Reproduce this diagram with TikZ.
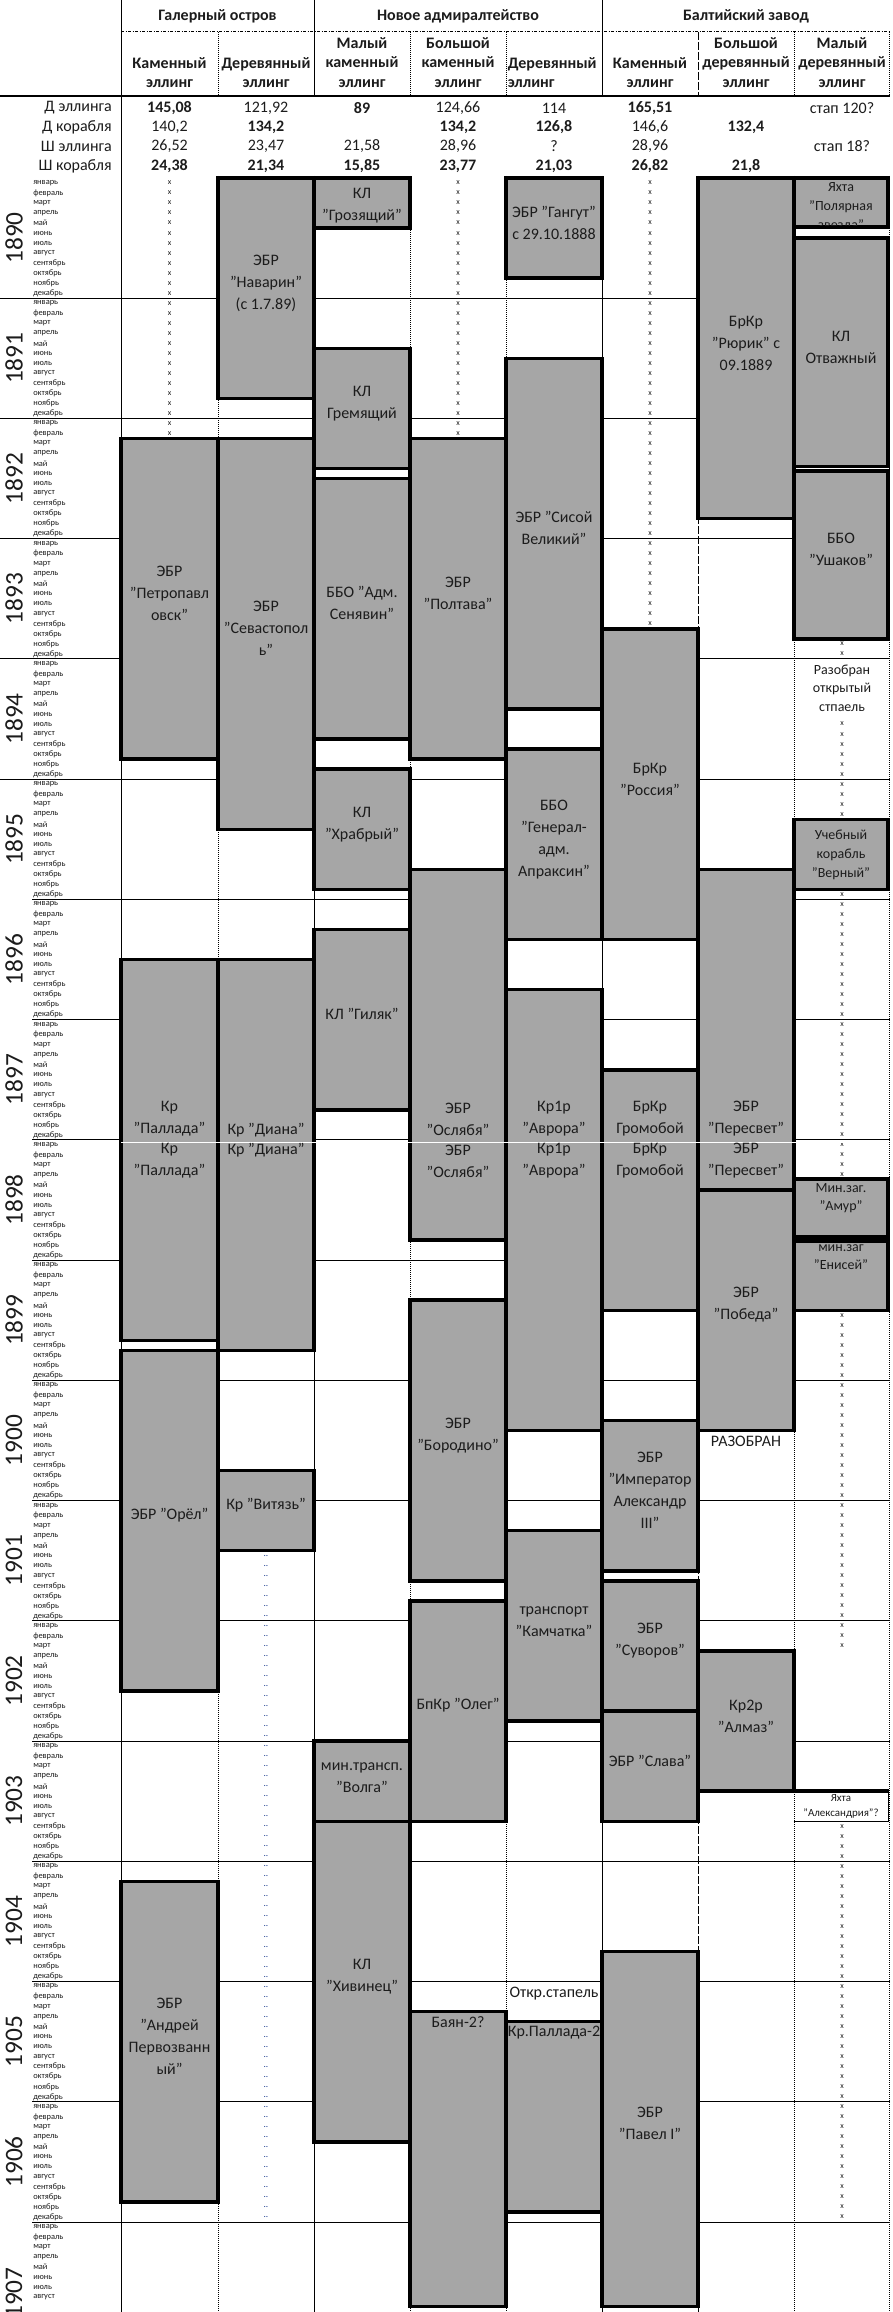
\documentclass[tikz,border=0pt]{standalone}
\usepackage{fontspec}
\setmainfont{Carlito}
\usetikzlibrary{fit}
\definecolor{shipgray}{HTML}{A6A6A6}
\definecolor{ink}{HTML}{1C1C1C}
\definecolor{dotblue}{HTML}{1F3F8F}

\begin{document}
\begin{tikzpicture}[
  x=0.75pt, y=-0.75pt,
  ship/.style={draw=black, line width=2.6pt, fill=shipgray, inner sep=0pt, align=center, text=ink, font=\fontsize{12}{16.5}\selectfont},
  shiptext/.style={inner sep=0pt, align=center, text=ink, font=\fontsize{12}{16.5}\selectfont},
  smalltext/.style={inner sep=0pt, align=center, text=ink, font=\fontsize{10.5}{14}\selectfont},
  tinytext/.style={inner sep=0pt, align=center, text=ink, font=\fontsize{8.2}{11.2}\selectfont},
  grouphead/.style={inner sep=0pt, text=ink, font=\fontsize{12}{14.6}\selectfont\bfseries},
  colhead/.style={inner sep=0pt, align=center, text=ink, font=\fontsize{12}{14.6}\selectfont\bfseries},
  rowhead/.style={inner sep=0pt, anchor=east, text=ink, font=\fontsize{12}{14.6}\selectfont},
  val/.style={inner sep=0pt, text=ink, font=\fontsize{12}{14.6}\selectfont},
  month/.style={inner sep=0pt, anchor=west, text=ink, font=\fontsize{6.3}{7}\selectfont},
  yearlab/.style={inner sep=0pt, rotate=90, text=ink, font=\fontsize{19}{19}\selectfont},
  xmark/.style={inner sep=0pt, text=ink, font=\fontsize{6}{6}\selectfont},
  dotmark/.style={inner sep=0pt, text=dotblue, font=\fontsize{7}{7}\selectfont},
  yachtbox/.style={inner sep=0pt},
  solidline/.style={line width=0.75pt},
  dotline/.style={line width=0.75pt, dash pattern=on 0.75pt off 0.75pt},
  dashline/.style={line width=0.75pt, dash pattern=on 6pt off 1.5pt},
  dashdotline/.style={line width=0.75pt, dash pattern=on 2.5pt off 1pt on 0.75pt off 1pt},
]

\useasboundingbox (0,0) rectangle (892,2312);
\clip (0,0) rectangle (892,2312);

% header lines
\draw[solidline] (121,0) -- (121,2312);
\draw[solidline] (314,0) -- (314,96);
\draw[solidline] (602,0) -- (602,96);
\foreach \cx in {218,410,506,794,889.5} \draw[dotline] (\cx,32) -- (\cx,96);
\draw[dashline] (698,32) -- (698,96);
\draw[dashdotline] (121,32) -- (889.5,32);
\draw[line width=1.1pt] (0,96) -- (889.5,96);

% grid lines
\draw[solidline] (314,176) -- (314,2312);
\draw[solidline] (602,176) -- (602,2312);
\foreach \cx in {218,410,506,794,889.5} \draw[dotline] (\cx,176) -- (\cx,2312);
\draw[dashline] (698,176) -- (698,2312);
\foreach \k in {1,...,5} \draw[solidline] (0,{178+120.24*\k}) -- (889.5,{178+120.24*\k});
\foreach \k in {6,...,17} \draw[solidline] (32,{178+120.24*\k}) -- (889.5,{178+120.24*\k});

% header text
\node[grouphead] (galerny) at (217.5,16) {Галерный остров};
\node[grouphead] (noveadm) at (458,16) {Новое адмиралтейство};
\node[grouphead] (baltic) at (746,16) {Балтийский завод};

\node[colhead] (h-c1) at (169.5,72.5) {Каменный\\эллинг};
\node[colhead] (h-c2) at (266,72.5) {Деревянный\\эллинг};
\node[colhead] (h-c3) at (362,62.5) {Малый\\каменный\\эллинг};
\node[colhead] (h-c4) at (458,62.5) {Большой\\каменный\\эллинг};
\node[colhead, align=left, anchor=west] (h-c5) at (507.5,72.5) {Деревянный\\эллинг};
\node[colhead] (h-c6) at (650,72.5) {Каменный\\эллинг};
\node[colhead] (h-c7) at (746,62.5) {Большой\\деревянный\\эллинг};
\node[colhead] (h-c8) at (842,62.5) {Малый\\деревянный\\эллинг};

\node[rowhead] (r-de) at (112,108) {Д эллинга};
\node[rowhead] (r-dk) at (112,127) {Д корабля};
\node[rowhead] (r-se) at (112,146) {Ш эллинга};
\node[rowhead] (r-sk) at (112,166) {Ш корабля};

\node[val] (de-1) at (169.5,108) {\bfseries 145,08};
\node[val] (de-2) at (266,108) {121,92};
\node[val] (de-3) at (362,108) {\bfseries 89};
\node[val] (de-4) at (458,108) {124,66};
\node[val] (de-5) at (554,108) {114};
\node[val] (de-6) at (650,108) {\bfseries 165,51};
\node[val] (de-8) at (842,108) {стап 120?};

\node[val] (dk-1) at (169.5,127) {140,2};
\node[val] (dk-2) at (266,127) {\bfseries 134,2};
\node[val] (dk-4) at (458,127) {\bfseries 134,2};
\node[val] (dk-5) at (554,127) {\bfseries 126,8};
\node[val] (dk-6) at (650,127) {146,6};
\node[val] (dk-7) at (746,127) {\bfseries 132,4};

\node[val] (se-1) at (169.5,146) {26,52};
\node[val] (se-2) at (266,146) {23,47};
\node[val] (se-3) at (362,146) {21,58};
\node[val] (se-4) at (458,146) {28,96};
\node[val] (se-5) at (554,146) {?};
\node[val] (se-6) at (650,146) {28,96};
\node[val] (se-8) at (842,146) {стап 18?};

\node[val] (sk-1) at (169.5,166) {\bfseries 24,38};
\node[val] (sk-2) at (266,166) {\bfseries 21,34};
\node[val] (sk-3) at (362,166) {\bfseries 15,85};
\node[val] (sk-4) at (458,166) {\bfseries 23,77};
\node[val] (sk-5) at (554,166) {\bfseries 21,03};
\node[val] (sk-6) at (650,166) {\bfseries 26,82};
\node[val] (sk-7) at (746,166) {\bfseries 21,8};

% years and months
\foreach \yr [count=\yi from 0] in {1890,...,1906}
  \node[yearlab] (yr-\yr) at (14,{238+120.24*\yi}) {\yr};
\node[yearlab] (yr-1907) at (14,2293) {1907};

\foreach \yr in {0,...,17} {
  \foreach \mn [count=\mi from 0] in {январь,февраль,март,апрель,май,июнь,июль,август,сентябрь,октябрь,ноябрь,декабрь} {
    \pgfmathtruncatemacro\idx{12*\yr+\mi}
    \ifnum\idx<212
      \node[month] (mon-\idx) at (33,{183+10.02*\idx}) {\mn};
    \fi
  }
}

% free slips
\foreach \r in {0,...,25} {
  \node[xmark] (xa-\r) at (169.5,{183+10.02*\r}) {x};
  \node[xmark] (xd-\r) at (458,{183+10.02*\r}) {x};
}
\foreach \r in {0,...,44} \node[xmark] (xf-\r) at (650,{183+10.02*\r}) {x};
\foreach \r in {46,47} \node[xmark] (xh-\r) at (842,{183+10.02*\r}) {x};
\foreach \r in {54,...,63} \node[xmark] (xh-\r) at (842,{183+10.02*\r}) {x};
\foreach \r in {71,...,99} \node[xmark] (xh-\r) at (842,{183+10.02*\r}) {x};
\foreach \r in {113,...,146} \node[xmark] (xh-\r) at (842,{183+10.02*\r}) {x};
\foreach \r in {164,...,203} \node[xmark] (xh-\r) at (842,{183+10.02*\r}) {x};
\foreach \r in {137,...,203} \node[dotmark] (xb-\r) at (266,{183+10.02*\r}) {..};

% Galerny: stone slip
\node[ship, fit={(121,438.5) (218,759.2)}] (petropavlovsk) {ЭБР\\"Петропавл\\овск"};
\node[ship, fit={(121,959.6) (218,1340.3)}] (pallada) {};
\node[ship, fit={(121,1350.3) (218,1691)}] (orel) {ЭБР "Орёл"};
\node[ship, fit={(121,1881.4) (218,2202)}] (andrey) {ЭБР\\"Андрей\\Первозванн\\ый"};

% Galerny: wooden slip
\node[ship, fit={(218,178) (314,398.4)}] (navarin) {ЭБР\\"Наварин"\\(с 1.7.89)};
\node[ship, fit={(218,438.5) (314,829.3)}] (sevastopol) {ЭБР\\"Севастопол\\ь"};
\node[ship, fit={(218,959.6) (314,1350.3)}] (diana) {};
\node[ship, fit={(218,1470.6) (314,1550.7)}] (vityaz) {Кр "Витязь"};

% New Admiralty: small stone slip
\node[ship, fit={(314,178) (410,228.1)}] (grozyashchy) {};
\node[shiptext] (grozyashchy-l) at (362,206) {КЛ\\"Грозящий"};
\node[ship, fit={(314,348.3) (410,468.6)}] (gremyashchy) {КЛ\\Гремящий};
\node[ship, fit={(314,478.6) (410,739.1)}] (senyavin) {ББО "Адм.\\Сенявин"};
\node[ship, fit={(314,769.2) (410,889.4)}] (khrabry) {КЛ\\"Храбрый"};
\node[ship, fit={(314,929.5) (410,1109.9)}] (gilyak) {КЛ "Гиляк"};
\node[ship, fit={(314,1741.1) (410,1821.3)}] (volga) {мин.трансп.\\"Волга"};
\node[ship, fit={(314,1821.3) (410,2141.9)}] (khivinets) {КЛ\\"Хивинец"};

% New Admiralty: big stone slip
\node[ship, fit={(410,438.5) (506,759.2)}] (poltava) {ЭБР\\"Полтава"};
\node[ship, fit={(410,869.4) (506,1240.1)}] (oslyabya) {};
\node[ship, fit={(410,1300.2) (506,1580.8)}] (borodino) {ЭБР\\"Бородино"};
\node[ship, fit={(410,1600.8) (506,1821.3)}] (oleg) {БпКр "Олег"};
\node[ship, fit={(410,2011.7) (506,2306.5)}] (bayan) {};

% New Admiralty: wooden slip
\node[ship, fit={(506,178) (602,278.2)}] (gangut) {ЭБР "Гангут"\\с 29.10.1888};
\node[ship, fit={(506,358.4) (602,709.1)}] (sisoy) {ЭБР "Сисой\\Великий"};
\node[ship, fit={(506,749.1) (602,939.5)}] (apraksin) {ББО\\"Генерал-\\адм.\\Апраксин"};
\node[ship, fit={(506,989.6) (602,1430.5)}] (avrora) {};
\node[ship, fit={(506,1530.7) (602,1721.1)}] (kamchatka) {транспорт\\"Камчатка"};
\node[ship, fit={(506,2021.7) (602,2212.1)}] (pallada2) {};

% Baltic: stone slip
\node[ship, fit={(602,628.9) (698,939.5)}] (rossiya) {БрКр\\"Россия"};
\node[ship, fit={(602,1069.8) (698,1310.3)}] (gromoboy) {};
\node[ship, fit={(602,1420.5) (698,1570.8)}] (aleksandr) {ЭБР\\"Император\\Александр\\III"};
\node[ship, fit={(602,1580.8) (698,1711.1)}] (suvorov) {ЭБР\\"Суворов"};
\node[ship, fit={(602,1711.1) (698,1821.3)}] (slava) {ЭБР "Слава"};
\node[ship, fit={(602,1951.5) (698,2306.5)}] (pavel) {ЭБР\\"Павел I"};

% Baltic: big wooden slip
\node[ship, fit={(698,178) (794,518.7)}] (ryurik) {БрКр\\"Рюрик" с\\09.1889};
\node[ship, fit={(698,869.4) (794,1190)}] (peresvet) {};
\node[ship, fit={(698,1190) (794,1430.5)}] (pobeda) {ЭБР\\"Победа"};
\node[ship, fit={(698,1650.9) (794,1791.2)}] (almaz) {Кр2р\\"Алмаз"};

% Baltic: small wooden slip
\node[ship, fit={(794,178) (888,227)}] (polyarnaya) {};
\node[ship, fit={(794,238) (888,466.5)}] (otvazhny) {КЛ\\Отважный};
\node[ship, fit={(794,471) (888,638.9)}] (ushakov) {ББО\\"Ушаков"};
\node[ship, fit={(794,819.3) (888,889.4)}] (verny) {};
\node[ship, fit={(794,1179) (888,1237)}] (amur) {};
\node[ship, fit={(794,1241) (888,1310.3)}] (enisey) {};
\node[yachtbox, fit={(794,1791.2) (888.5,1821.3)}] (aleksandria) {};
\draw[line width=2.6pt] (aleksandria.north west) -- (aleksandria.north east);
\draw[solidline] (aleksandria.south west) -- (aleksandria.south east) -- (aleksandria.north east);

% page break
\draw[white, line width=1.1pt] (121,1142.5) -- (889,1142.5);

% labels
\node[shiptext] (pallada-up) at (169.5,1119) {Кр\\"Паллада"};
\node[shiptext] (pallada-dn) at (169.5,1161) {Кр\\"Паллада"};
\node[shiptext] (diana-up) at (266,1130) {Кр "Диана"};
\node[shiptext] (diana-dn) at (266,1150) {Кр "Диана"};
\node[shiptext] (oslyabya-up) at (458,1119) {ЭБР\\"Ослябя"};
\node[shiptext] (oslyabya-dn) at (458,1161) {ЭБР\\"Ослябя"};
\node[shiptext] (avrora-up) at (554,1119) {Кр1р\\"Аврора"};
\node[shiptext] (avrora-dn) at (554,1161) {Кр1р\\"Аврора"};
\node[shiptext] (gromoboy-up) at (650,1119) {БрКр\\Громобой};
\node[shiptext] (gromoboy-dn) at (650,1161) {БрКр\\Громобой};
\node[shiptext] (peresvet-up) at (746,1119) {ЭБР\\"Пересвет"};
\node[shiptext] (peresvet-dn) at (746,1161) {ЭБР\\"Пересвет"};

\node[shiptext] (bayan-l) at (458,2022) {Баян-2?};
\node[shiptext] (otkr) at (554,1994) {Откр.стапель};
\node[shiptext] (pallada2-l) at (554,2033) {Кр.Паллада-2};
\node[shiptext] (razobran) at (746,1441) {РАЗОБРАН};

\begin{scope}
  \clip (795.5,179.5) rectangle (886.5,225.5);
  \node[smalltext] (polyarnaya-l) at (841,207) {Яхта\\"Полярная\\звезда"};
\end{scope}
\node[smalltext] (stapel-l) at (842,688) {Разобран\\открытый\\стпаель};
\node[smalltext] (verny-l) at (841,855) {Учебный\\корабль\\"Верный"};
\node[smalltext] (amur-l) at (841,1198) {Мин.заг.\\"Амур"};
\node[smalltext] (enisey-l) at (841,1257) {мин.заг\\"Енисей"};
\node[tinytext] (aleksandria-l) at (841,1806) {Яхта\\"Александрия"?};

\end{tikzpicture}
\end{document}
